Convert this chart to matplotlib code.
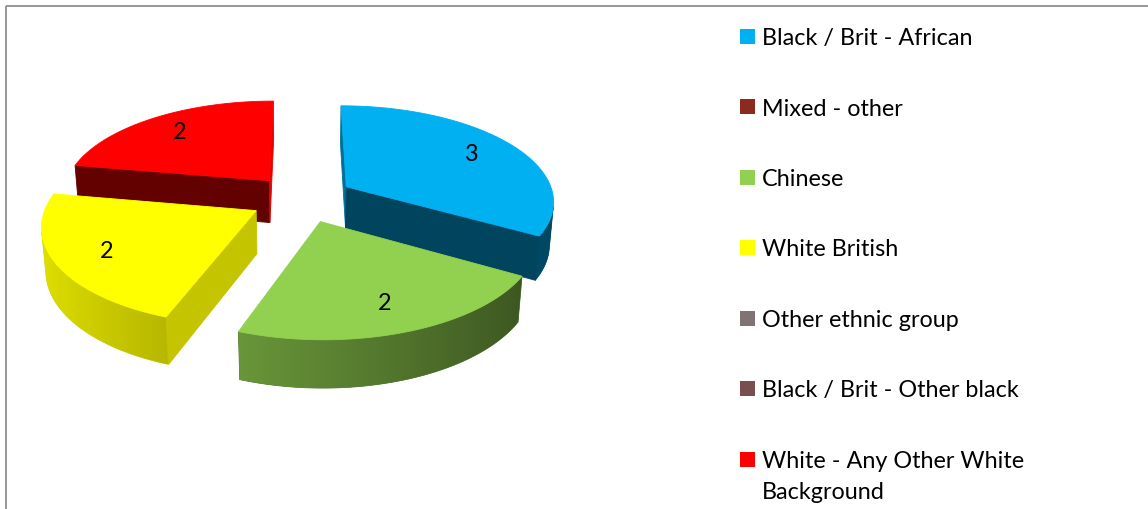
import textwrap
import numpy as np
import matplotlib.pyplot as plt
from matplotlib.colors import to_rgb
from matplotlib.patches import Polygon, Rectangle

categories = ['Black / Brit - African', 'Mixed - other', 'Chinese', 'White British',
              'Other ethnic group', 'Black / Brit - Other black',
              'White - Any Other White Background']
counts = [3, 0, 2, 2, 0, 0, 2]
colors = ['#00b0f0', '#8b2a1e', '#92d050', '#ffff00', '#7f7373', '#784f4f', '#ff0000']

W, H = 1148, 510
FONT = 'Lato'
FSIZE = 16.8

# 3d pie view (screen pixels, pie radius = 1 in world units)
CX, CY = 302, 199.5
SCALE = 208
ELEV = np.radians(27.2)
DIST = 6.5
THICK = 0.234
EXPLODE = 0.25
LABEL_R = 0.76

sinE, cosE = np.sin(ELEV), np.cos(ELEV)
cam = np.array([0.0, -DIST * cosE, DIST * sinE])


def project(x, y, z):
    depth = DIST + y * cosE - z * sinE
    up = y * sinE + z * cosE
    return CX + SCALE * DIST * x / depth, CY - SCALE * DIST * up / depth


def shade(color, f):
    return tuple(np.clip(np.array(to_rgb(color)) * f, 0, 1))


def wall_light(t):
    return 0.635 - 0.25 * np.sin(t)


def faces_camera(point, normal):
    return np.dot(normal, cam - point) > 0


fig = plt.figure(figsize=(W / 100, H / 100), dpi=100)
ax = fig.add_axes([0, 0, 1, 1])
ax.set_xlim(0, W)
ax.set_ylim(H, 0)
ax.axis('off')

# slices, clockwise from 12 o'clock
total = sum(counts)
slices = []
start = 0.0
for n, c in zip(counts, colors):
    span = 360.0 * n / total
    if n > 0:
        slices.append((start, start + span, n, c))
    start += span


def slice_offset(a0, a1):
    mid = np.radians((a0 + a1) / 2)
    return EXPLODE * np.sin(mid), EXPLODE * np.cos(mid)


# far slices first
slices.sort(key=lambda s: -slice_offset(s[0], s[1])[1])

z = 2
for a0, a1, n, c in slices:
    ox, oy = slice_offset(a0, a1)
    th = np.radians(np.linspace(a0, a1, 2 * int(round(a1 - a0)) + 1))

    # outer wall: visible part of the rim, filled with a horizontal gradient
    vis = [t for t in th
           if faces_camera(np.array([ox + np.sin(t), oy + np.cos(t), -THICK / 2]),
                           np.array([np.sin(t), np.cos(t), 0.0]))]
    if len(vis) > 1:
        top_pts = [project(ox + np.sin(t), oy + np.cos(t), 0) for t in vis]
        bot_pts = [project(ox + np.sin(t), oy + np.cos(t), -THICK) for t in vis]
        outline = top_pts + bot_pts[::-1]
        xs = np.array([p[0] for p in top_pts])
        order = np.argsort(xs)
        base = shade(c, wall_light(np.mean(vis)))
        wall = Polygon(outline, closed=True, fc=base, ec=base, lw=0.5, zorder=z)
        ax.add_patch(wall)
        ox_all = np.array([p[0] for p in outline])
        oy_all = np.array([p[1] for p in outline])
        cols = np.linspace(ox_all.min(), ox_all.max(), 200)
        tcol = np.interp(cols, xs[order], np.array(vis)[order])
        grad = np.array([shade(c, wall_light(t)) for t in tcol])[None, :, :]
        im = ax.imshow(grad, extent=(ox_all.min(), ox_all.max(), oy_all.max(), oy_all.min()),
                       aspect='auto', interpolation='bilinear', zorder=z)
        im.set_clip_path(wall)

    # cut faces
    for t, sign in ((th[0], -1), (th[-1], 1)):
        nrm = sign * np.array([np.cos(t), -np.sin(t), 0.0])
        pt = np.array([ox + 0.5 * np.sin(t), oy + 0.5 * np.cos(t), -THICK / 2])
        if not faces_camera(pt, nrm):
            continue
        quad = [project(ox, oy, 0),
                project(ox + np.sin(t), oy + np.cos(t), 0),
                project(ox + np.sin(t), oy + np.cos(t), -THICK),
                project(ox, oy, -THICK)]
        col = shade(c, 0.769 + 0.132 * nrm[0] + 0.362 * nrm[1])
        ax.add_patch(Polygon(quad, closed=True, fc=col, ec=col, lw=0.6, zorder=z + 0.5))

    # top
    top = [project(ox, oy, 0)] + [project(ox + np.sin(t), oy + np.cos(t), 0) for t in th]
    ax.add_patch(Polygon(top, closed=True, fc=c, ec=c, lw=0.6, zorder=z + 1))

    mid = np.radians((a0 + a1) / 2)
    lx, ly = project(ox + LABEL_R * np.sin(mid), oy + LABEL_R * np.cos(mid), 0)
    ax.text(lx, ly, str(n), ha='center', va='center', fontsize=FSIZE,
            family=FONT, color='black', zorder=20)
    z += 2

ax.set_xlim(0, W)
ax.set_ylim(H, 0)

# legend
for i, (name, c) in enumerate(zip(categories, colors)):
    yc = 37 + i * 70.5
    ax.add_patch(Rectangle((740, yc - 7.5), 15, 15, fc=c, ec='none', zorder=5))
    for j, line in enumerate(textwrap.wrap(name, 26)):
        ax.text(762, yc + 8 + j * 31, line, va='baseline', ha='left',
                fontsize=FSIZE, family=FONT, color='black')

# chart border
ax.add_patch(Rectangle((5.5, 6.5), W, H, fill=False, ec='#868686', lw=1.2, zorder=30))

fig.savefig('out.png', dpi=100)
